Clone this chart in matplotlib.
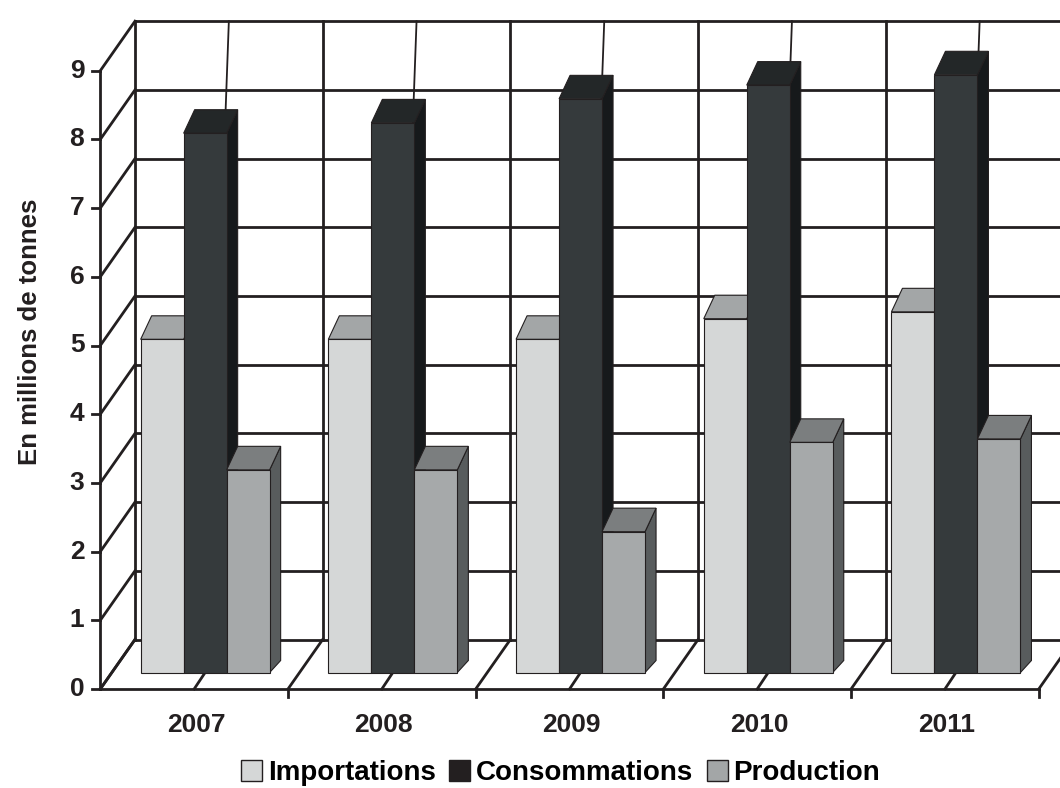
import matplotlib
matplotlib.use("Agg")
import matplotlib.pyplot as plt
from matplotlib.patches import Polygon, Patch

plt.rcParams['font.family'] = ['Liberation Sans', 'DejaVu Sans']
plt.rcParams['font.weight'] = 'bold'

# ==========================
# DONNEES
# ==========================

annees = ["2007", "2008", "2009", "2010", "2011"]
importations = [4.85, 4.85, 4.85, 5.15, 5.25]
consommations = [7.85, 8.0, 8.35, 8.55, 8.7]
production = [2.95, 2.95, 2.05, 3.35, 3.4]
graduations = list(range(10))

series = ["Importations", "Consommations", "Production"]
valeurs = [importations, consommations, production]

# couleurs : face avant, dessus, cote
couleurs = [
    ("#d5d7d7", "#a3a6a7", "#8e9192"),
    ("#353a3c", "#232728", "#16191b"),
    ("#a6a9aa", "#7b7e7f", "#585c5d"),
]
couleurs_legende = ["#d5d7d7", "#231f20", "#a3a6a7"]
trait = "#231f20"

# ==========================
# GEOMETRIE (pseudo 3D)
# ==========================

W, H = 1060, 788
PX_CAT, X0_PX = 187.7, 100.3      # pixels par categorie, origine
PX_VAL, Y0_PX = 68.7, 689.0       # pixels par unite, ligne du zero

# profondeur des murs
MUR_DX = 34.7 / PX_CAT
MUR_DY = 49.5 / PX_VAL

# barres
LARG = 43.0 / PX_CAT
DECAL = 11.0 / PX_CAT
BASE = 16.5 / PX_VAL
HAUT_DX = 11.0 / PX_CAT
HAUT_DY = 23.5 / PX_VAL
BAS_DY = 12.0 / PX_VAL

n = len(annees)
vmax = graduations[-1]

fig = plt.figure(figsize=(W / 100, H / 100), dpi=100)
ax = fig.add_axes([0, 0, 1, 1])
ax.set_xlim(-X0_PX / PX_CAT, (W - X0_PX) / PX_CAT)
ax.set_ylim(-(H - Y0_PX) / PX_VAL, Y0_PX / PX_VAL)
ax.axis("off")

lw = 2.0

def ligne(xs, ys, z=1):
    ax.plot(xs, ys, color=trait, lw=lw, solid_capstyle="projecting", zorder=z)

# mur du fond : lignes horizontales
for v in graduations:
    ligne([MUR_DX, n + MUR_DX + 1], [v + MUR_DY, v + MUR_DY])

# mur du fond : lignes verticales
for k in range(n + 1):
    ligne([k + MUR_DX, k + MUR_DX], [MUR_DY, vmax + MUR_DY])

# mur de gauche
ligne([0, 0], [0, vmax])
for v in graduations:
    ligne([0, MUR_DX], [v, v + MUR_DY])
    ligne([-0.045, 0], [v, v])

# sol
ligne([0, n], [0, 0])
for k in range(n + 1):
    ligne([k, k + MUR_DX], [0, MUR_DY])
    if k > 0:
        ligne([k, k], [0, -0.12])

# lignes centrales des categories
for k in range(n):
    xc = k + 0.5
    ax.plot([xc + MUR_DX, xc + DECAL], [vmax + MUR_DY, BASE],
            color=trait, lw=1.3, zorder=1.5)
    ax.plot([xc, xc + DECAL], [0, BASE], color=trait, lw=lw, zorder=1.5)

# barres
for k in range(n):
    for j, vals in enumerate(valeurs):
        face, dessus, cote = couleurs[j]
        x0 = k + 0.5 + DECAL - 1.5 * LARG + j * LARG
        x1 = x0 + LARG
        y0 = BASE
        y1 = BASE + vals[k]
        z = 3 + k * 3 + j
        ax.add_patch(Polygon(
            [[x1, y0], [x1 + HAUT_DX, y0 + BAS_DY],
             [x1 + HAUT_DX, y1 + HAUT_DY], [x1, y1]],
            closed=True, facecolor=cote, edgecolor=trait, lw=0.8, zorder=z))
        ax.add_patch(Polygon(
            [[x0, y1], [x1, y1], [x1 + HAUT_DX, y1 + HAUT_DY],
             [x0 + HAUT_DX, y1 + HAUT_DY]],
            closed=True, facecolor=dessus, edgecolor=trait, lw=0.8, zorder=z))
        ax.add_patch(Polygon(
            [[x0, y0], [x1, y0], [x1, y1], [x0, y1]],
            closed=True, facecolor=face, edgecolor=trait, lw=0.8, zorder=z))

# graduations
for v in graduations:
    ax.text(-0.085, v, str(v), ha="right", va="center",
            fontsize=19, color=trait)

for k, a in enumerate(annees):
    ax.text(k + 0.51, -0.52, a, ha="center", va="center",
            fontsize=19, color=trait)

ax.text(-0.375, 5.2, "En millions de tonnes", rotation=90,
        ha="center", va="center", fontsize=18.5, color=trait)

# legende
poignees = [Patch(facecolor=c, edgecolor=trait, lw=1.0) for c in couleurs_legende]
fig.legend(poignees, series, loc="center", bbox_to_anchor=(0.529, 0.019),
           ncol=3, frameon=False, fontsize=20, handlelength=0.75,
           handleheight=0.8, handletextpad=0.2, columnspacing=0.5)

fig.savefig("out.png", dpi=100)
